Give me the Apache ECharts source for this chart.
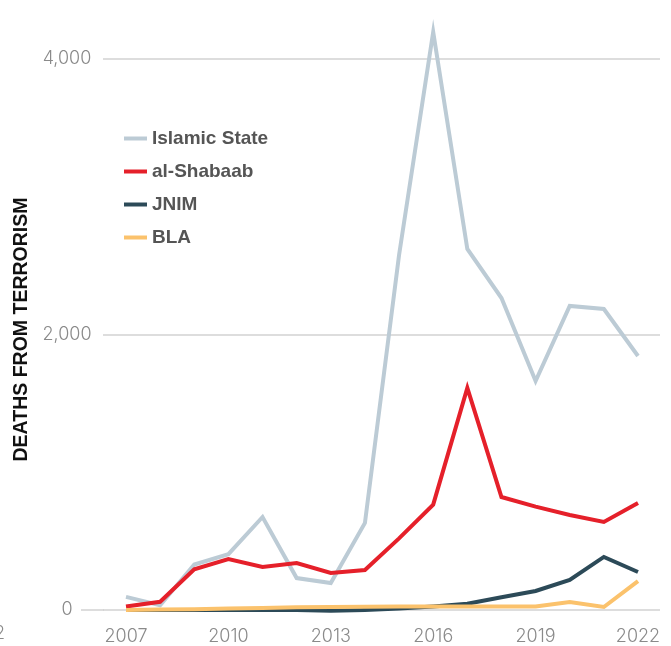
<!DOCTYPE html>
<html><head><meta charset="utf-8">
<script src="https://cdn.jsdelivr.net/npm/echarts@6/dist/echarts.min.js"></script>
<style>html,body{margin:0;padding:0;background:#fff}#c{width:671px;height:646px}</style>
</head><body><div id="c"></div>
<script>
var years = ['2007','2008','2009','2010','2011','2012','2013','2014','2015','2016','2017','2018','2019','2020','2021','2022'];
var islamicState = [95, 35, 330, 405, 675, 232, 196, 632, 2577, 4196, 2621, 2265, 1662, 2207, 2185, 1844];
var alShabaab = [25, 60, 295, 370, 312, 341, 269, 290, 520, 765, 1612, 820, 750, 690, 639, 777];
var jnim = [0, 0, 0, 0, 0, 0, -5, 0, 10, 25, 45, 92, 138, 218, 385, 276];
var bla = [0, 3, 6, 10, 15, 20, 22, 24, 25, 25, 25, 25, 25, 58, 22, 210];
var yTicks = [0, 2000, 4000];

var chart = echarts.init(document.getElementById('c'), null, {renderer: 'canvas'});
var FONT = 'Inter';
var BOLD = 'Liberation Sans';
function mk(name, data, color, z) {
  return {name: name, type: 'line', data: data, xAxisIndex: 1, yAxisIndex: 1,
    symbol: 'none', clip: false, z: z,
    lineStyle: {color: color, width: 4, join: 'miter'}, itemStyle: {color: color}};
}
chart.setOption({
  animation: false,
  grid: [
    {left: 103, right: 11, top: 59, bottom: 36},
    {left: 126, right: 33, top: 59, bottom: 36}
  ],
  xAxis: [
    {gridIndex: 0, type: 'value', show: false, min: 0, max: 1},
    {gridIndex: 1, type: 'category', data: years, boundaryGap: false,
      axisLine: {show: false}, axisTick: {show: false},
      axisLabel: {interval: 2, color: '#8a8a8a', fontFamily: FONT, fontSize: 18, fontWeight: 300, margin: 18}}
  ],
  yAxis: [
    {gridIndex: 0, type: 'value', min: yTicks[0], max: yTicks[2], interval: yTicks[1] - yTicks[0],
      axisLine: {show: false}, axisTick: {show: false},
      splitLine: {lineStyle: {color: '#d2d2d2', width: 1.5}},
      axisLabel: {align: 'center', margin: 36, color: '#8a8a8a', fontFamily: FONT, fontSize: 18, fontWeight: 300,
        formatter: function (v) { return v.toLocaleString('en-US'); }},
      name: 'DEATHS FROM TERRORISM', nameLocation: 'middle', nameRotate: 90, nameGap: 71,
      nameTextStyle: {color: '#111', fontFamily: BOLD, fontWeight: 'bold', fontSize: 19.5, padding: [0, 0, 0, 10]}},
    {gridIndex: 1, type: 'value', min: yTicks[0], max: yTicks[2], show: false}
  ],
  legend: {
    orient: 'vertical', left: 119, top: 124, itemWidth: 23, itemHeight: 4, itemGap: 14,
    icon: 'rect',
    textStyle: {color: '#555', fontFamily: BOLD, fontWeight: 'bold', fontSize: 19},
    data: ['Islamic State', 'al-Shabaab', 'JNIM', 'BLA']
  },
  graphic: [
    {type: 'line', shape: {x1: 81, y1: 610, x2: 104, y2: 610}, style: {stroke: '#d2d2d2', lineWidth: 1.5}, z: -1},
    {type: 'text', left: -6, top: 625, style: {text: '2', fill: '#8a8a8a', font: '300 18px Inter'}}
  ],
  series: [
    mk('Islamic State', islamicState, '#bccbd5', 2),
    mk('al-Shabaab', alShabaab, '#e5202a', 3),
    mk('JNIM', jnim, '#2c4a58', 4),
    mk('BLA', bla, '#fbc26c', 5)
  ]
});
</script></body></html>
